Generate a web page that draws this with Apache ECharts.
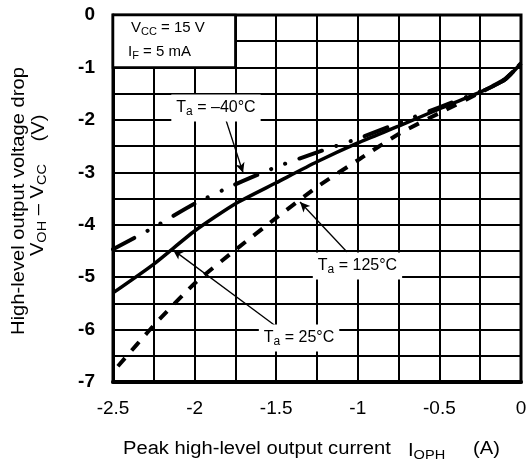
<!DOCTYPE html>
<html><head><meta charset="utf-8">
<script src="https://cdn.jsdelivr.net/npm/echarts@6/dist/echarts.min.js"></script>
<style>html,body{margin:0;padding:0;background:#fff}#c{width:531px;height:465px}</style>
</head><body><div id="c"></div>
<script>
// ---- data ----
const x25  = [-2.5, -2.25, -2.0, -1.75, -1.5, -1.25, -1.0, -0.75, -0.5, -0.25, -0.1, 0];
const v25  = [-5.3, -4.75, -4.12, -3.6, -3.2, -2.8, -2.44, -2.12, -1.79, -1.47, -1.24, -0.92];
const xM40 = [-2.5, -2.25, -2.0, -1.75, -1.5, -1.25, -1.0, -0.75, -0.5, -0.25, -0.1, 0];
const vM40 = [-4.47, -4.05, -3.6, -3.23, -2.9, -2.62, -2.36, -2.06, -1.76, -1.46, -1.23, -0.92];
const x125 = [-2.47, -2.25, -2.0, -1.75, -1.5, -1.25, -1.0, -0.75, -0.5, -0.25, -0.1, 0];
const v125 = [-6.7, -5.92, -5.12, -4.48, -3.87, -3.28, -2.77, -2.27, -1.87, -1.48, -1.23, -0.92];
const xTickVals = [-2.5, -2, -1.5, -1, -0.5, 0];
const xTickLabels = ['-2.5', '-2', '-1.5', '-1', '-0.5', '0'];
const yTickVals = [0, -1, -2, -3, -4, -5, -6, -7];
const yTickLabels = ['0', '-1', '-2', '-3', '-4', '-5', '-6', '-7'];
const seriesNames = ['Ta = 25°C', 'Ta = -40°C', 'Ta = 125°C'];

// ---- annotation anchors (data coordinates) ----
const ann = {
  m40: {label: [-1.869, -1.774], from: [-1.814, -1.945], to: [-1.703, -3.01], temp: '–40°C'},
  t125: {label: [-1.002, -4.787], from: [-1.066, -4.52], to: [-1.354, -3.567], temp: '125°C'},
  t25: {label: [-1.36, -6.16], from: [-1.495, -5.95], to: [-2.132, -4.48], temp: '25°C'}
};

const FONT = 'Liberation Sans, Arial, sans-serif';
const zip = (xs, ys) => xs.map((x, i) => [x, ys[i]]);
const pick = (vals, labels) => v => {
  const i = vals.findIndex(t => Math.abs(t - v) < 1e-6);
  return i >= 0 ? labels[i] : '';
};
const arrow = a => ({
  silent: true, animation: false,
  symbol: ['none', 'arrow'], symbolSize: [7, 10],
  label: {show: false},
  lineStyle: {color: '#000', width: 1.3, type: 'solid'},
  emphasis: {disabled: true},
  data: [[{coord: a.from}, {coord: a.to}]]
});

const chart = echarts.init(document.getElementById('c'));
chart.setOption({
  animation: false,
  backgroundColor: '#fff',
  grid: {left: 113, right: 10, top: 15, bottom: 83, show: true, borderColor: '#000', borderWidth: 3, backgroundColor: 'transparent'},
  xAxis: {
    type: 'value', min: -2.5, max: 0, interval: 0.25,
    axisLine: {show: true, onZero: false, lineStyle: {color: '#000', width: 4}},
    axisTick: {show: false},
    splitLine: {show: true, lineStyle: {color: '#000', width: 2}},
    axisLabel: {color: '#000', fontSize: 19, fontFamily: FONT, margin: 17, formatter: pick(xTickVals, xTickLabels)}
  },
  yAxis: {
    type: 'value', min: -7, max: 0, interval: 0.5,
    axisLine: {show: true, onZero: false, lineStyle: {color: '#000', width: 3}},
    axisTick: {show: false},
    splitLine: {show: true, lineStyle: {color: '#000', width: 2}},
    axisLabel: {color: '#000', fontSize: 19, fontWeight: 'bold', fontFamily: FONT, margin: 18, formatter: pick(yTickVals, yTickLabels)}
  },
  series: [
    {name: seriesNames[0], type: 'line', data: zip(x25, v25), showSymbol: false, smooth: 0.2, z: 5,
     lineStyle: {color: '#000', width: 3.5}, markLine: arrow(ann.t25)},
    {name: seriesNames[1], type: 'line', data: zip(xM40, vM40), showSymbol: false, smooth: 0.2, z: 5,
     lineStyle: {color: '#000', width: 4, cap: 'round', type: [24, 15, 0.1, 15, 0.1, 15]}, markLine: arrow(ann.m40)},
    {name: seriesNames[2], type: 'line', data: zip(x125, v125), showSymbol: false, smooth: 0.2, z: 5,
     lineStyle: {color: '#000', width: 4, type: [11, 10]}, markLine: arrow(ann.t125)}
  ]
});

const P = (x, y) => chart.convertToPixel({gridIndex: 0}, [x, y]);
const sub = (fs, lh) => ({fontSize: fs, lineHeight: lh, verticalAlign: 'bottom', fontFamily: FONT, fill: '#000'});
const txt = (x, y, text, fs, align, extra) => Object.assign({
  type: 'text', z: 100, x: x, y: y,
  style: {text: text, fontSize: fs, fontFamily: FONT, fill: '#000', lineHeight: fs + 3,
          align: align, verticalAlign: 'middle', textAlign: align, textVerticalAlign: 'middle',
          rich: {s: sub(Math.round(fs * 0.72), Math.round(fs * 0.75))}}
}, extra || {});
const taLabel = a => {
  const p = P(a.label[0], a.label[1]);
  const t = txt(p[0], p[1], 'T{s|a} = ' + a.temp, 16, 'center');
  t.style.backgroundColor = '#fff';
  t.style.padding = [4, 5, 4, 5];
  return t;
};
const tl = P(-2.5, 0), br = P(-1.75, -1);
const TS = 1.12; // horizontal stretch of the reference lettering
chart.setOption({
  graphic: [
    {type: 'rect', z: 90, shape: {x: tl[0], y: tl[1], width: br[0] - tl[0], height: br[1] - tl[1]},
     style: {fill: '#fff', stroke: '#000', lineWidth: 2.5}},
    txt(tl[0] + 18, tl[1] + 13, 'V{s|CC} = 15 V', 15, 'left'),
    txt(tl[0] + 15, tl[1] + 37, 'I{s|F} = 5 mA', 15, 'left'),
    taLabel(ann.m40), taLabel(ann.t125), taLabel(ann.t25),
    txt(123, 449, 'Peak high-level output current', 18, 'left', {scaleX: TS}),
    txt(408, 451, 'I{s|OPH}', 18, 'left', {scaleX: TS}),
    txt(473, 449, '(A)', 18, 'left', {scaleX: TS}),
    txt(19, 201, 'High-level output voltage drop', 18, 'center', {rotation: Math.PI / 2, scaleX: TS}),
    txt(38, 210, 'V{s|OH} – V{s|CC}', 18, 'center', {rotation: Math.PI / 2, scaleX: TS}),
    txt(39, 128, '(V)', 18, 'center', {rotation: Math.PI / 2, scaleX: TS})
  ]
});
</script>
</body></html>
